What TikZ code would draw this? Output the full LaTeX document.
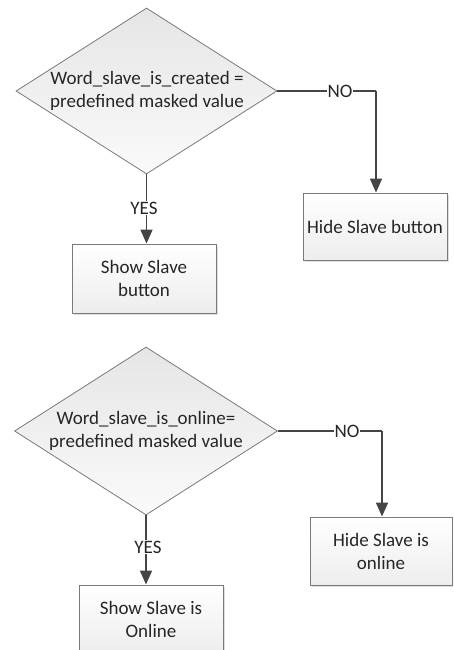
\documentclass[tikz,border=0pt]{standalone}
\usepackage{fontspec}
\setmainfont{Carlito}
\usetikzlibrary{shapes.geometric,arrows.meta,shadows}
\definecolor{linec}{HTML}{454545}
\definecolor{edgec}{HTML}{7A7A7A}
\begin{document}
\begin{tikzpicture}[x=1pt,y=-1pt,
  txt/.style={font=\fontsize{19}{23}\selectfont, text=black!85, align=center},
  dia/.style={diamond, draw=edgec, line width=0.8pt, inner sep=0pt, top color=gray!20, bottom color=gray!4},
  procbox/.style={rectangle, draw=edgec, line width=0.9pt, inner sep=0pt, top color=white, bottom color=gray!14,
    drop shadow={shadow xshift=2pt, shadow yshift=-2pt, opacity=0.25, fill=gray}},
  conn/.style={draw=linec, line width=1.7pt},
  arr/.style={conn, -{Triangle[length=14pt,width=12pt]}},
  lab/.style={txt, fill=white, inner sep=1pt}]
\path[use as bounding box, clip] (0,0) rectangle (453,650);
\fill[white] (0,0) rectangle (453,650);
% ---- top decision ----
\node[dia, minimum width=261pt, minimum height=166pt] (d1) at (146.5,91) {};
\node[txt] (t1) at (147,91) {Word\_slave\_is\_created =\\predefined masked value};
\node[procbox, minimum width=144pt, minimum height=67pt] (b1) at (375,226.5) {};
\node[txt] (tb1) at (b1) {Hide Slave button};
\node[procbox, minimum width=144pt, minimum height=69pt] (b2) at (144,278.5) {};
\node[txt] (tb2) at (b2) {Show Slave\\button};
\coordinate (c1) at (376,91);
\draw[conn] (d1.east) -- (c1);
\draw[arr] (c1) -- (c1 |- b1.north);
\node[lab] (no1) at (340,91) {NO};
\draw[arr] (d1.south) -- (d1.south |- b2.north);
\node[lab] (yes1) at (144,208) {YES};
% ---- bottom decision ----
\node[dia, minimum width=263pt, minimum height=168pt] (d2) at (146,431) {};
\node[txt] (t2) at (146,431) {Word\_slave\_is\_online=\\predefined masked value};
\node[procbox, minimum width=142pt, minimum height=68pt] (b3) at (381,551) {};
\node[txt] (tb3) at (b3) {Hide Slave is\\online};
\node[procbox, minimum width=144pt, minimum height=68pt] (b4) at (151,619) {};
\node[txt] (tb4) at (b4) {Show Slave is\\Online};
\coordinate (c2) at (382,431);
\draw[conn] (d2.east) -- (c2);
\draw[arr] (c2) -- (c2 |- b3.north);
\node[lab] (no2) at (347,431) {NO};
\draw[arr] (d2.south) -- (d2.south |- b4.north);
\node[lab] (yes2) at (148,547) {YES};
\end{tikzpicture}
\end{document}
